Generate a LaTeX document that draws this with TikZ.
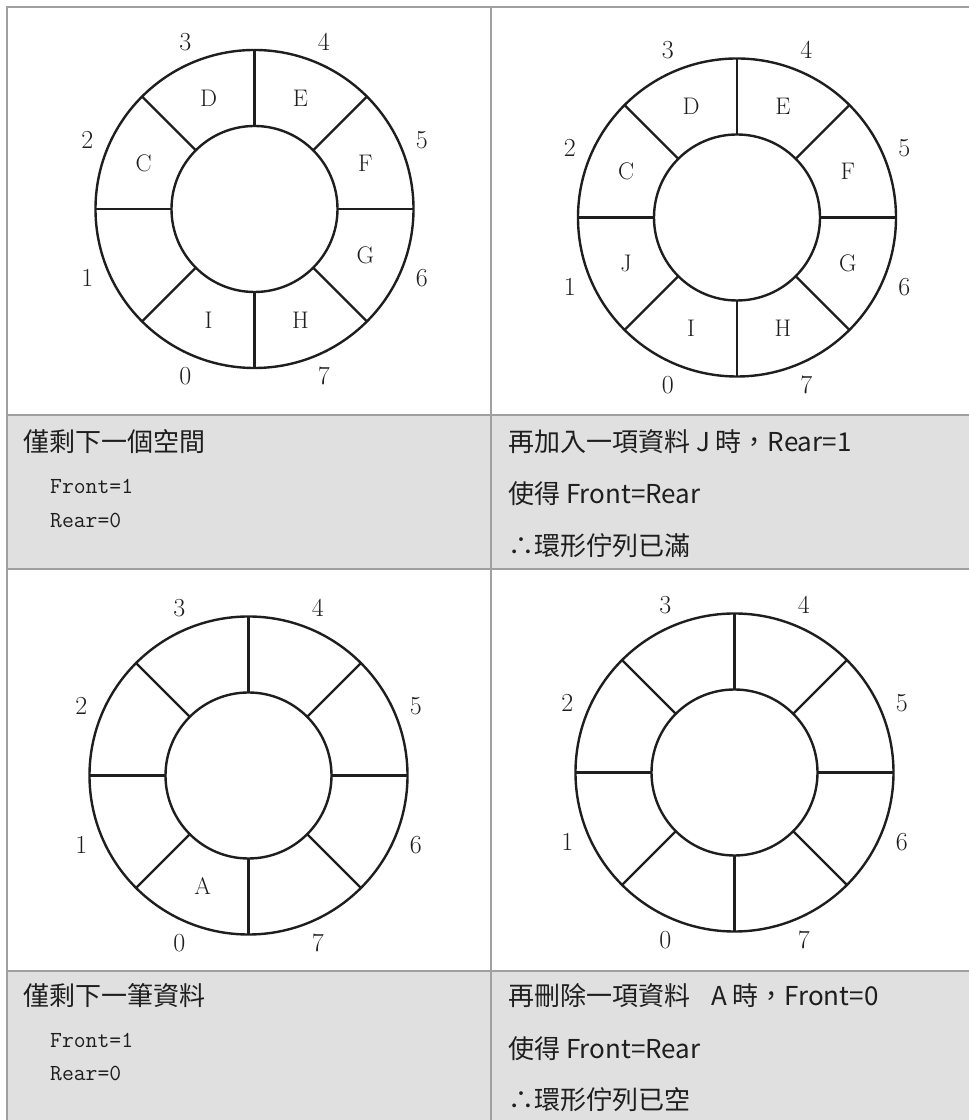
\documentclass[tikz,border=0pt]{standalone}
\usepackage{fontspec}
\newfontfamily\cjk{Noto Sans CJK TC}
\usetikzlibrary{positioning}
\definecolor{cellgray}{RGB}{224,224,224}
\definecolor{rulegray}{RGB}{160,160,160}
\definecolor{inkgray}{RGB}{30,30,30}

\begin{document}
\begin{tikzpicture}
[x=1pt,y=1pt,
rule/.style={draw=rulegray,line width=2.5pt},
ring/.style={draw=inkgray,line width=2.4pt},
idx/.style={inner sep=0pt,text=inkgray,font=\fontsize{26}{26}\selectfont},
slot/.style={inner sep=0pt,text=inkgray,font=\fontsize{24}{24}\selectfont},
cell/.style={inner sep=0pt,anchor=west,text=inkgray,font=\cjk\fontsize{26}{26}\selectfont},
code/.style={inner sep=0pt,anchor=base west,text=inkgray,font=\ttfamily\fontsize{23}{23}\selectfont}]
\useasboundingbox (0,0) rectangle (969,1120);
%%
\fill[cellgray] (7,551) rectangle (969,705);
\fill[cellgray] (7,0) rectangle (969,149);
\draw[rule] (7,0) -- (7,1113) -- (969,1113);
\draw[rule] (491,0) -- (491,1113);
\draw[rule] (7,705) -- (969,705) (7,551) -- (969,551) (7,149) -- (969,149);
%%
\foreach \cx/\cy/\rg in {254.5/911/ringA,737/902.5/ringB,248.5/344.5/ringC,734.5/347.5/ringD}{
  \coordinate (\rg) at (\cx,\cy);
  \draw[ring] (\rg) circle[radius=159] (\rg) circle[radius=83];
  \foreach \a in {0,45,...,315}
    \draw[ring] ([shift={(\a:83)}]\rg) -- ([shift={(\a:159)}]\rg);
  \foreach \k in {0,...,7}
    \node[idx] (\rg-\k) at ([shift={({247.5-45*\k}:181)}]\rg) {\k};
}
%%
\foreach \k/\c in {2/C,3/D,4/E,5/F,6/G,7/H,0/I}
  \node[slot] (ringA-\c) at ([shift={({247.5-45*\k}:120)}]ringA) {\c};
\foreach \k/\c in {1/J,2/C,3/D,4/E,5/F,6/G,7/H,0/I}
  \node[slot] (ringB-\c) at ([shift={({247.5-45*\k}:120)}]ringB) {\c};
\node[slot] (ringC-A) at ([shift={(247.5:120)}]ringC) {A};
%%
\node (leftA) [cell] at (23,678.5) {僅剩下一個空間};
\node (frontA) [code] at (50,626) {Front=1};
\node (rearA) [code,below=34pt of frontA.base west,anchor=base west] {Rear=0};
%%
\node (rightA) [cell] at (508,678.5) {再加入一項資料 J 時，Rear=1};
\node (rightA2) [cell,below=52pt of rightA.west,anchor=west] {使得 Front=Rear};
\node (rightA3) [cell,below=52pt of rightA2.west,anchor=west] {∴環形佇列已滿};
%%
\node (leftB) [cell] at (23,124.5) {僅剩下一筆資料};
\node (frontB) [code] at (50,72) {Front=1};
\node (rearB) [code,below=33pt of frontB.base west,anchor=base west] {Rear=0};
%%
\node (rightB) [cell] at (508,124.5) {再刪除一項資料\hspace{0.8em}A 時，Front=0};
\node (rightB2) [cell,below=53pt of rightB.west,anchor=west] {使得 Front=Rear};
\node (rightB3) [cell,below=51pt of rightB2.west,anchor=west] {∴環形佇列已空};
%%
\end{tikzpicture}
\end{document}
